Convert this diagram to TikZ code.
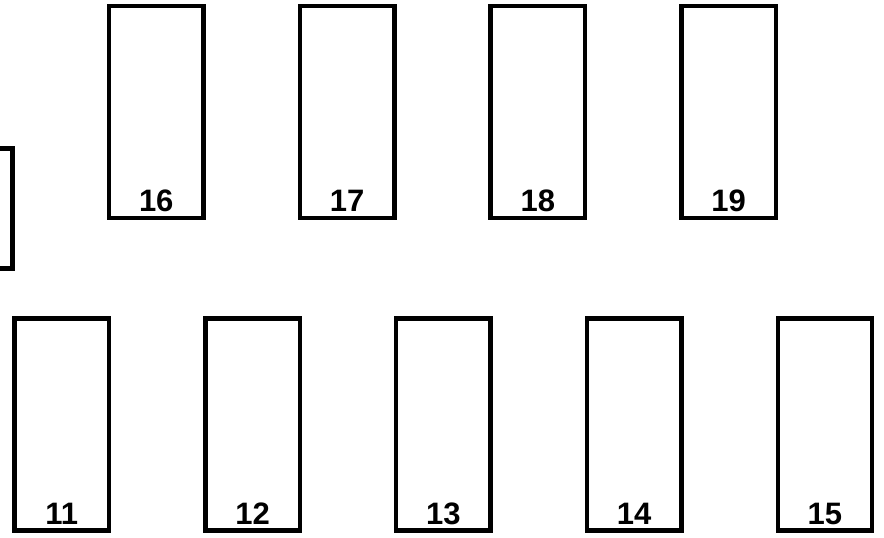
\documentclass[tikz,border=0pt]{standalone}
\usepackage{fontspec}
\setmainfont{Liberation Sans}
\usetikzlibrary{positioning}

\begin{document}
\begin{tikzpicture}[
    x=1pt, y=-1pt,
    node distance=96.3pt,
    bay/.style={
        draw,
        line width=4.4pt,
        outer sep=0pt,
        inner sep=0pt,
        minimum width=94.5pt,
        minimum height=212pt
    },
    num/.style={
        anchor=base,
        inner sep=0pt,
        font=\fontsize{31}{37}\selectfont\bfseries
    }
]

\useasboundingbox (0,0) rectangle (884,538);
\clip (0,0) rectangle (884,538);

% --- Lower row
\node[bay] (bay11) at (61.75,424.5) {};
\node[bay, right=of bay11] (bay12) {};
\node[bay, right=of bay12] (bay13) {};
\node[bay, right=of bay13] (bay14) {};
\node[bay, right=of bay14] (bay15) {};

% --- Upper row
\node[bay] (bay16) at (156.25,112.25) {};
\node[bay, right=of bay16] (bay17) {};
\node[bay, right=of bay17] (bay18) {};
\node[bay, right=of bay18] (bay19) {};

% --- Box cut off at the left edge
\node[bay, minimum height=120pt] (side) at (-34.75,208.5) {};

% --- Numbers
\node[num] (n11) at ([yshift=6.5pt]bay11.south) {11};
\node[num] (n12) at ([yshift=6.5pt]bay12.south) {12};
\node[num] (n13) at ([yshift=6.5pt]bay13.south) {13};
\node[num] (n14) at ([yshift=6.5pt]bay14.south) {14};
\node[num] (n15) at ([yshift=6.5pt]bay15.south) {15};
\node[num] (n16) at ([yshift=6.5pt]bay16.south) {16};
\node[num] (n17) at ([yshift=6.5pt]bay17.south) {17};
\node[num] (n18) at ([yshift=6.5pt]bay18.south) {18};
\node[num] (n19) at ([yshift=6.5pt]bay19.south) {19};

\end{tikzpicture}
\end{document}
